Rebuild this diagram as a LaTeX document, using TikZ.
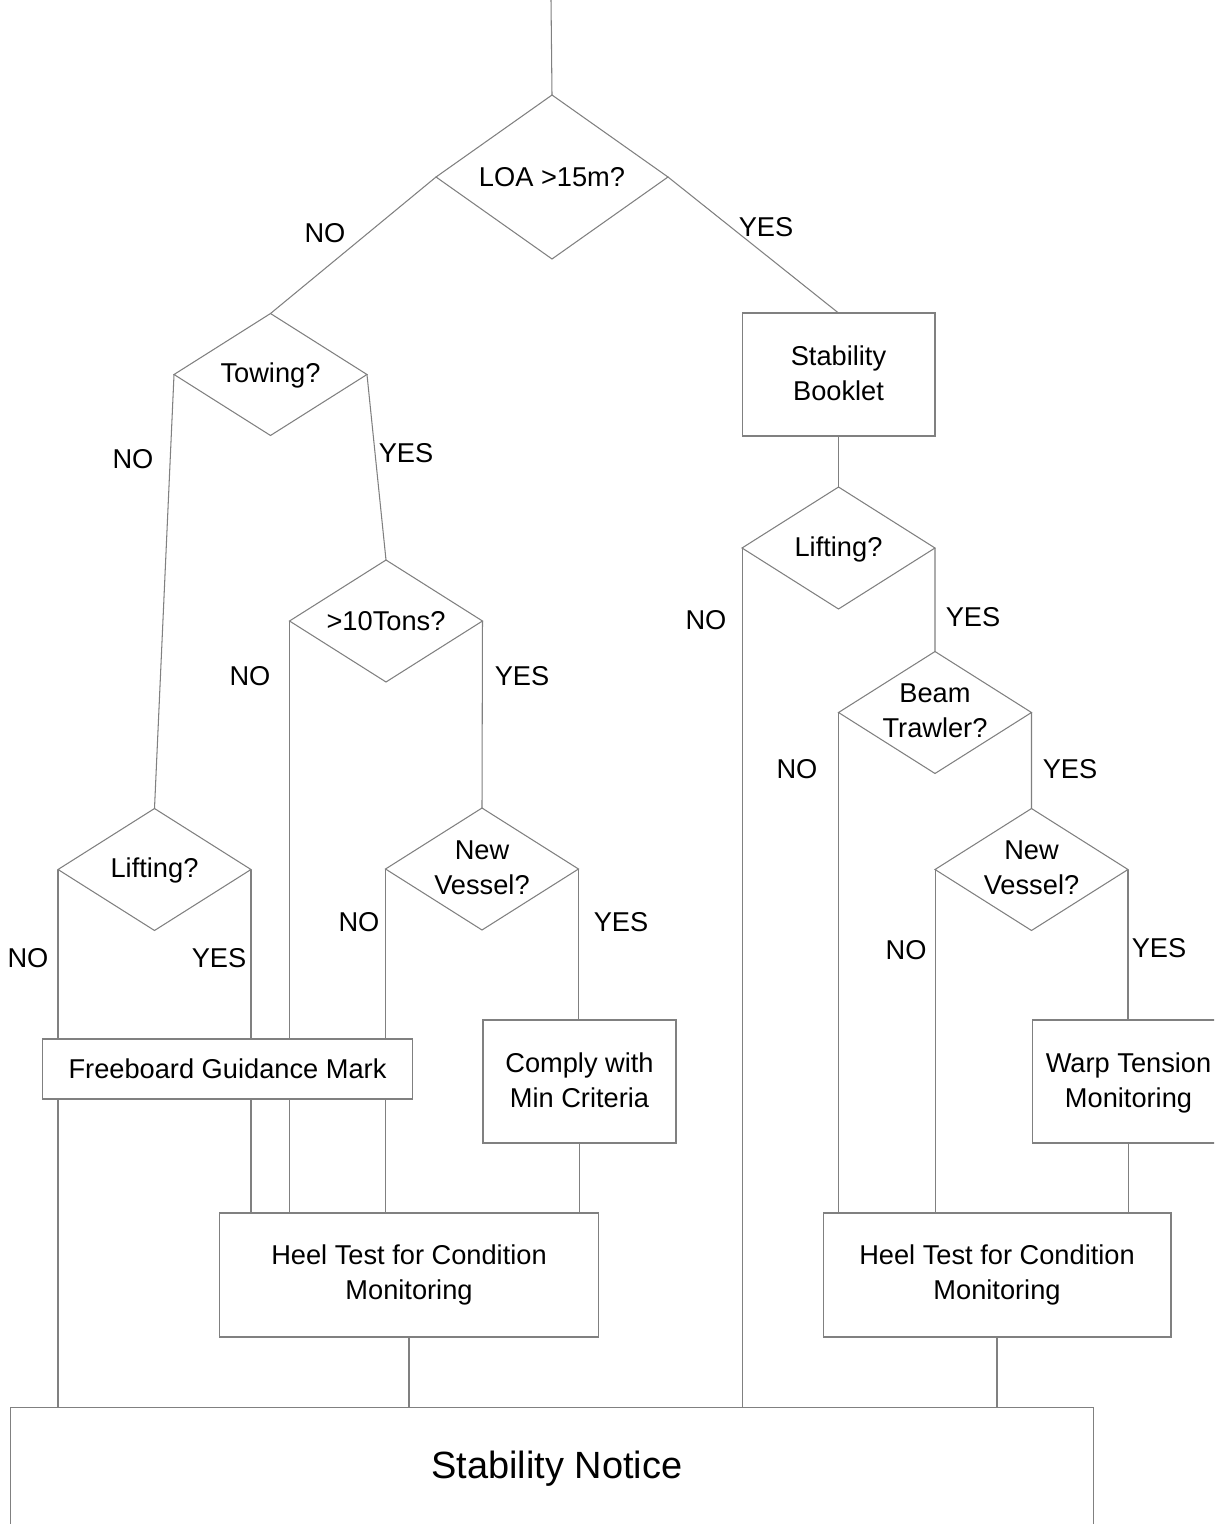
\documentclass[tikz,border=0pt]{standalone}
\usepackage{fontspec}
\setmainfont{Liberation Sans}
\usetikzlibrary{shapes.geometric,backgrounds}
\definecolor{linec}{RGB}{128,128,128}
\begin{document}
\begin{tikzpicture}[x=0.02cm,y=-0.02cm,
  dia/.style={diamond,draw=linec,line width=0.6pt,fill=white,inner sep=0pt,outer sep=0pt},
  sdia/.style={dia,minimum width=3.86cm,minimum height=2.44cm},
  box/.style={rectangle,draw=linec,line width=0.6pt,fill=white,inner sep=0pt,outer sep=0pt},
  txt/.style={font=\fontsize{15.5}{19.8}\selectfont,align=center,inner sep=0pt,text=black},
  lbl/.style={font=\fontsize{15.5}{19.8}\selectfont,inner sep=0pt,text=black},
  conn/.style={draw=linec,line width=0.6pt}]
\clip (0,0) rectangle (1214,1524);
% decisions
\node[dia,minimum width=4.64cm,minimum height=3.28cm] (loa) at (552,177) {};
\node[txt] (loaT) at (552,177) {LOA >15m?};
\node[sdia] (tow) at (270.5,374.5) {};
\node[txt] (towT) at (270.5,375) {Towing?};
\node[sdia] (tons) at (386,621) {};
\node[txt] (tonsT) at (386,621) {>10Tons?};
\node[sdia] (liftL) at (154.5,869.5) {};
\node[txt] (liftLT) at (154.5,870) {Lifting?};
\node[sdia] (nvL) at (482,869) {};
\node[txt] (nvLT) at (482,868) {New\\Vessel?};
\node[sdia] (liftR) at (838.5,548) {};
\node[txt] (liftRT) at (838.5,549) {Lifting?};
\node[sdia] (beam) at (935,712.5) {};
\node[txt] (beamT) at (935,711) {Beam\\Trawler?};
\node[sdia] (nvR) at (1031.5,869.5) {};
\node[txt] (nvRT) at (1031.5,868) {New\\Vessel?};
% boxes
\node[box,minimum width=3.86cm,minimum height=2.46cm] (book) at (838.5,374.5) {};
\node[txt] (bookT) at (838.5,373) {Stability\\Booklet};
\node[box,minimum width=7.42cm,minimum height=1.2cm] (fb) at (227.5,1069) {};
\node[txt] (fbT) at (227.5,1069) {Freeboard Guidance Mark};
\node[box,minimum width=3.86cm,minimum height=2.46cm] (comply) at (579.5,1081.5) {};
\node[txt] (complyT) at (579.5,1080) {Comply with\\Min Criteria};
\node[box,minimum width=3.86cm,minimum height=2.46cm] (warp) at (1128.5,1081.5) {};
\node[txt] (warpT) at (1128.5,1083) {Warp Tension\\Monitoring};
\node[box,minimum width=7.6cm,minimum height=2.48cm] (heelL) at (409,1275) {};
\node[txt] (heelLT) at (409,1275) {Heel Test for Condition\\Monitoring};
\node[box,minimum width=6.96cm,minimum height=2.48cm] (heelR) at (997,1275) {};
\node[txt] (heelRT) at (997,1275) {Heel Test for Condition\\Monitoring};
\node[box,minimum width=21.68cm,minimum height=2.46cm] (notice) at (552,1468.5) {};
\node[txt,font=\fontsize{21.6}{26}\selectfont] (noticeT) at (557,1469) {Stability Notice};
\coordinate (start) at (551,0);
% connectors
\begin{pgfonlayer}{background}
\draw[conn] (start) -- (loa.north);
\draw[conn] (loa.west) -- (tow.north);
\draw[conn] (loa.east) -- (book.north);
\draw[conn] (book.south) -- (liftR.north);
\draw[conn] (tow.west) -- (liftL.north);
\draw[conn] (tow.east) -- (tons.north);
\draw[conn] (tons.west) -- (tons.west |- heelL.north);
\draw[conn] (tons.east) -- (nvL.north);
\draw[conn] (liftL.west) -- (liftL.west |- notice.north);
\draw[conn] (liftL.east) -- (liftL.east |- heelL.north);
\draw[conn] (nvL.west) -- (nvL.west |- heelL.north);
\draw[conn] (nvL.east) -- (nvL.east |- comply.north);
\draw[conn] (comply.south) -- (comply.south |- heelL.north);
\draw[conn] (heelL.south) -- (heelL.south |- notice.north);
\draw[conn] (liftR.west) -- (liftR.west |- notice.north);
\draw[conn] (liftR.east) -- (beam.north);
\draw[conn] (beam.west) -- (beam.west |- heelR.north);
\draw[conn] (beam.east) -- (nvR.north);
\draw[conn] (nvR.west) -- (nvR.west |- heelR.north);
\draw[conn] (nvR.east) -- (nvR.east |- warp.north);
\draw[conn] (warp.south) -- (warp.south |- heelR.north);
\draw[conn] (heelR.south) -- (heelR.south |- notice.north);
\end{pgfonlayer}
% branch labels
\node[lbl] (l1) at (325,233) {NO};
\node[lbl] (l2) at (766,227) {YES};
\node[lbl] (l3) at (133,459) {NO};
\node[lbl] (l4) at (406,453) {YES};
\node[lbl] (l5) at (250,676) {NO};
\node[lbl] (l6) at (522,676) {YES};
\node[lbl] (l7) at (706,620) {NO};
\node[lbl] (l8) at (973,617) {YES};
\node[lbl] (l9) at (797,769) {NO};
\node[lbl] (l10) at (1070,769) {YES};
\node[lbl] (l11) at (28,958) {NO};
\node[lbl] (l12) at (219,958) {YES};
\node[lbl] (l13) at (359,922) {NO};
\node[lbl] (l14) at (621,922) {YES};
\node[lbl] (l15) at (906,950) {NO};
\node[lbl] (l16) at (1159,948) {YES};
\end{tikzpicture}
\end{document}
